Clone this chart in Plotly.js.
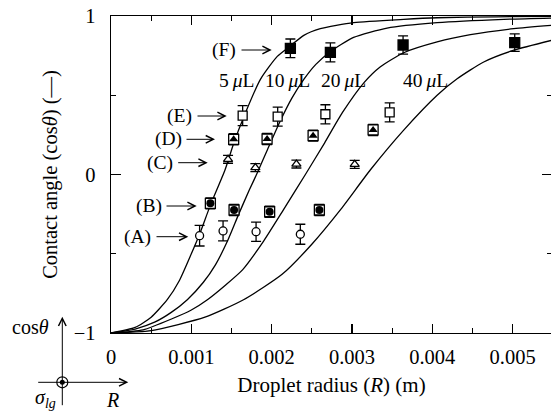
<!DOCTYPE html>
<html><head><meta charset="utf-8">
<script src="https://cdn.plot.ly/plotly-3.0.1.min.js"></script>
<style>html,body{margin:0;padding:0;overflow:hidden;background:#fff}</style>
</head><body><div id="chart" style="width:552px;height:412px"></div>
<script>
// ---- data (radius in m, cos(theta)) ----
const curveLabels = ["5\u2009<i>μ</i>L", "10\u2009<i>μ</i>L", "20\u2009<i>μ</i>L", "40\u2009<i>μ</i>L"];
const curve5_x  = [0, 0.0003, 0.0005, 0.0007, 0.00085, 0.001, 0.0011, 0.00124, 0.00142, 0.00153, 0.00165, 0.00186, 0.00207, 0.00223, 0.0024, 0.002606, 0.003021, 0.003644, 0.00406, 0.0048, 0.00549];
const curve5_y  = [-1, -0.965, -0.9, -0.79, -0.67, -0.5, -0.38, -0.19, 0.03, 0.2, 0.36, 0.6, 0.745, 0.81, 0.878, 0.92, 0.958, 0.979, 0.989, 0.995, 0.998];
const curve10_x = [0, 0.0003, 0.00055, 0.00075, 0.00095, 0.00115, 0.0013, 0.00145, 0.00159, 0.00172, 0.00183, 0.00195, 0.0021, 0.00225, 0.0024, 0.00255, 0.00273, 0.00302, 0.003437, 0.00406, 0.004889, 0.00549];
const curve10_y = [-1, -0.975, -0.93, -0.87, -0.79, -0.68, -0.57, -0.42, -0.25, -0.1, 0.02, 0.16, 0.33, 0.48, 0.6, 0.695, 0.775, 0.865, 0.924, 0.958, 0.979, 0.987];
const curve20_x = [0, 0.0004, 0.00076, 0.001, 0.0012, 0.00142, 0.00164, 0.0019, 0.00215, 0.00242, 0.00266, 0.00288, 0.00315, 0.003354, 0.003644, 0.00406, 0.004474, 0.005014, 0.00549];
const curve20_y = [-1, -0.98, -0.91, -0.855, -0.79, -0.7, -0.6, -0.42, -0.22, 0.0, 0.2, 0.39, 0.58, 0.68, 0.768, 0.836, 0.882, 0.92, 0.941];
const curve40_x = [0, 0.0005, 0.00117, 0.00165, 0.00213, 0.0025, 0.00286, 0.00323, 0.003644, 0.00406, 0.004309, 0.00464, 0.005014, 0.00549];
const curve40_y = [-1, -0.985, -0.9, -0.79, -0.63, -0.44, -0.22, 0.03, 0.28, 0.5, 0.604, 0.71, 0.784, 0.847];

const seriesNames = ["(A)", "(B)", "(C)", "(D)", "(E)", "(F)"];
const A_x = [0.001103, 0.001395, 0.001806, 0.002357];
const A_y = [-0.386, -0.356, -0.361, -0.377];
const A_err = [0.065, 0.063, 0.061, 0.063];
const B_x = [0.001237, 0.001532, 0.001975, 0.002594];
const B_y = [-0.182, -0.224, -0.235, -0.224];
const B_err = [0.035, 0.035, 0.035, 0.035];
const C_x = [0.001457, 0.001797, 0.002308, 0.003034];
const C_y = [0.096, 0.043, 0.066, 0.064];
const C_err = [0.025, 0.025, 0.025, 0.025];
const D_x = [0.001527, 0.001943, 0.002516, 0.003263];
const D_y = [0.222, 0.224, 0.245, 0.281];
const D_err = [0.035, 0.035, 0.035, 0.035];
const E_x = [0.001639, 0.002075, 0.002669, 0.003469];
const E_y = [0.371, 0.365, 0.380, 0.392];
const E_err = [0.063, 0.06, 0.06, 0.06];
const F_x = [0.002233, 0.002731, 0.003636, 0.005026];
const F_y = [0.796, 0.771, 0.817, 0.832];
const F_err = [0.059, 0.06, 0.058, 0.055];

// ---- geometry helpers (layout placement only) ----
const ML = 111, MT = 16, PW = 441, PH = 317, XMAX = 0.00549;
const px2x = p => (p - ML) / PW * XMAX;
const py2y = p => 1 - (p - MT) / PH * 2;
const px2paper = p => (p - ML) / PW;
const py2paper = p => (MT + PH - p) / PH;

const FONT = "Liberation Serif, Times New Roman, serif";
const K = "#000";

function curve(x, y) {
  return {x: x, y: y, type: "scatter", mode: "lines", line: {color: K, width: 1.3, shape: "spline", smoothing: 0.6}, hoverinfo: "skip", showlegend: false};
}
function pts(x, y, err, sym, size, fill) {
  return {x: x, y: y, type: "scatter", mode: "markers",
    error_y: {type: "data", array: err, visible: true, color: K, thickness: 1.3, width: 5},
    marker: {symbol: sym, size: size, color: fill, line: {color: K, width: 1.3}},
    showlegend: false, cliponaxis: false};
}
function overlay(x, y, sym, size) {
  return {x: x, y: y, type: "scatter", mode: "markers",
    marker: {symbol: sym, size: size, color: K, line: {color: K, width: 0}}, showlegend: false, cliponaxis: false};
}

const traces = [
  curve(curve5_x, curve5_y), curve(curve10_x, curve10_y), curve(curve20_x, curve20_y), curve(curve40_x, curve40_y),
  pts(A_x, A_y, A_err, "circle", 8, "#fff"),
  pts(B_x, B_y, B_err, "square", 10, "#fff"), overlay(B_x, B_y, "circle", 8),
  pts(C_x, C_y, C_err, "triangle-up", 8, "#fff"),
  pts(D_x, D_y, D_err, "square", 10, "#fff"), overlay(D_x, D_y, "triangle-up", 8),
  pts(E_x, E_y, E_err, "square", 9, "#fff"),
  pts(F_x, F_y, F_err, "square", 10, K)
];

const annotations = [];
// series labels with arrows: [text right edge px, y px, arrow tail px, arrow tip px]
const labelPos = [[151.7, 236.7, 155, 188.3], [163.3, 206, 165, 196.7], [174.3, 162.7, 176.7, 207.7],
                  [183.3, 139.3, 185, 215], [192.7, 116, 196, 226.7], [237.3, 50, 240, 271.7]];
seriesNames.forEach((t, i) => {
  const p = labelPos[i];
  annotations.push({x: px2x(p[0] + 1), y: py2y(p[1]), xref: "x", yref: "y", text: t, showarrow: false,
    xanchor: "right", yanchor: "middle", font: {family: FONT, size: 19.5, color: K}});
  annotations.push({x: px2x(p[3]), y: py2y(p[1]), xref: "x", yref: "y", text: "", showarrow: true,
    ax: p[2] - p[3], ay: 0, arrowhead: 5, arrowsize: 1.5, arrowwidth: 1, arrowcolor: K});
});
// volume labels
const volPos = [236.5, 287, 343.3, 425.5];
curveLabels.forEach((t, i) => {
  annotations.push({x: px2x(volPos[i]), y: py2y(80), xref: "x", yref: "y", text: t, showarrow: false,
    xanchor: "center", yanchor: "middle", font: {family: FONT, size: 19.5, color: K}});
});
// small axis diagram (bottom-left)
const ox = 62.3, oy = 382.3;
annotations.push({x: px2paper(ox), y: py2paper(316.7), xref: "paper", yref: "paper", text: "", showarrow: true,
  ax: 0, ay: 406.7 - 316.7, arrowhead: 5, arrowsize: 1.5, arrowwidth: 1, arrowcolor: K});
annotations.push({x: px2paper(128.3), y: py2paper(oy), xref: "paper", yref: "paper", text: "", showarrow: true,
  ax: 36.7 - 128.3, ay: 0, arrowhead: 5, arrowsize: 1.5, arrowwidth: 1, arrowcolor: K});
annotations.push({x: px2paper(51), y: py2paper(327), xref: "paper", yref: "paper", text: "cos<i>θ</i>", showarrow: false,
  xanchor: "right", yanchor: "middle", font: {family: FONT, size: 20, color: K}});
annotations.push({x: px2paper(58), y: py2paper(398), xref: "paper", yref: "paper", text: "<i>σ</i><sub><i>lg</i></sub>", showarrow: false,
  xanchor: "right", yanchor: "middle", font: {family: FONT, size: 20, color: K}});
annotations.push({x: px2paper(112), y: py2paper(400), xref: "paper", yref: "paper", text: "<i>R</i>", showarrow: false,
  xanchor: "center", yanchor: "middle", font: {family: FONT, size: 20, color: K}});

const shapes = [
  {type: "circle", xref: "paper", yref: "paper", xsizemode: "pixel", ysizemode: "pixel",
   xanchor: px2paper(ox), yanchor: py2paper(oy), x0: -5.5, x1: 5.5, y0: -5.5, y1: 5.5,
   line: {color: K, width: 1.2}, fillcolor: "#fff"},
  {type: "circle", xref: "paper", yref: "paper", xsizemode: "pixel", ysizemode: "pixel",
   xanchor: px2paper(ox), yanchor: py2paper(oy), x0: -2.5, x1: 2.5, y0: -2.5, y1: 2.5,
   line: {color: K, width: 0}, fillcolor: K}
];

const layout = {
  width: 552, height: 412,
  margin: {l: ML, r: 0, t: MT, b: 412 - MT - PH},
  paper_bgcolor: "#fff", plot_bgcolor: "#fff",
  font: {family: FONT, size: 20, color: K},
  showlegend: false,
  xaxis: {range: [0, XMAX], dtick: 0.001, tick0: 0, exponentformat: "none",
    tickfont: {family: FONT, size: 20.5, color: K},
    showline: true, linecolor: K, linewidth: 1.3, mirror: "ticks", ticks: "inside", ticklen: 9, tickwidth: 1.3, tickcolor: K,
    minor: {dtick: 0.0005, tick0: 0, ticks: "inside", ticklen: 5, tickwidth: 1.3, tickcolor: K},
    showgrid: false, zeroline: false, ticklabelstandoff: 5,
    title: {text: "Droplet radius (<i>R</i>) (m)", font: {family: FONT, size: 21, color: K}, standoff: 10}},
  yaxis: {range: [-1, 1], dtick: 1, tick0: 0,
    tickfont: {family: FONT, size: 20.5, color: K},
    showline: true, linecolor: K, linewidth: 1.3, mirror: "ticks", ticks: "inside", ticklen: 10, tickwidth: 1.3, tickcolor: K,
    minor: {dtick: 0.5, tick0: 0, ticks: "inside", ticklen: 5, tickwidth: 1.3, tickcolor: K},
    showgrid: false, zeroline: false, ticklabelstandoff: 10,
    title: {text: "Contact angle (cos<i>θ</i>) (—)", font: {family: FONT, size: 20.5, color: K}, standoff: 10}},
  annotations: annotations,
  shapes: shapes
};

Plotly.newPlot("chart", traces, layout, {staticPlot: true, displayModeBar: false});
</script></body></html>
